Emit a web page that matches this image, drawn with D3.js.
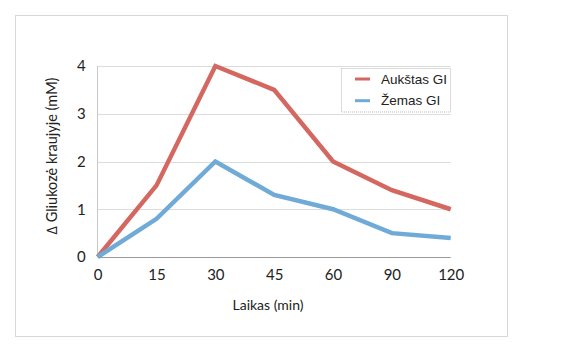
<!DOCTYPE html>
<html><head><meta charset="utf-8">
<script src="https://cdn.jsdelivr.net/npm/d3@7"></script>
<style>body{margin:0;background:#fff;}svg{display:block;}</style>
</head><body>
<svg id="c" width="565" height="356"></svg>
<script>
const categories = ["0","15","30","45","60","90","120"];
const highGI = [0, 1.5, 4, 3.5, 2, 1.4, 1.0];
const lowGI = [0, 0.8, 2, 1.3, 1.0, 0.5, 0.4];
const seriesNames = ["Aukštas GI", "Žemas GI"];
const yTicks = [0, 1, 2, 3, 4];
const colors = ["#d4675f", "#6fabd6"];

const svg = d3.select("#c");
const font = "Lato, 'Open Sans', sans-serif";

// outer dotted border
svg.append("rect").attr("x", 15.5).attr("y", 15.5).attr("width", 492).attr("height", 321)
  .attr("fill", "none").attr("stroke", "#b0b0b0").attr("stroke-dasharray", "1,1");

const x = d3.scalePoint().domain(categories).range([97.7, 450.7]);
const y = d3.scaleLinear().domain([0, 4]).range([257, 66]);

// gridlines
svg.append("g").selectAll("line").data(yTicks.filter(d => d > 0)).join("line")
  .attr("x1", 97.7).attr("x2", 450.7)
  .attr("y1", d => Math.round(y(d)) + 0.5).attr("y2", d => Math.round(y(d)) + 0.5)
  .attr("stroke", "#dcdcdc").attr("stroke-width", 1);

// y axis line
svg.append("line").attr("x1", 97.5).attr("x2", 97.5).attr("y1", 66).attr("y2", 257)
  .attr("stroke", "#c8c8c8");
// x axis line
svg.append("line").attr("x1", 97.7).attr("x2", 450.7).attr("y1", 257.5).attr("y2", 257.5)
  .attr("stroke", "#9a9a9a");

// y tick labels
const yAxis = d3.axisLeft(y).tickValues(yTicks).tickSize(0).tickPadding(12).tickFormat(d3.format("d"));
const gy = svg.append("g").attr("transform", "translate(97.7,0)").call(yAxis);
gy.select(".domain").remove();
gy.selectAll("text").attr("font-family", font).attr("font-size", 15).attr("fill", "#222");

// x tick labels
const xAxis = d3.axisBottom(x).tickSize(0).tickPadding(12);
const gx = svg.append("g").attr("transform", "translate(0,257)").call(xAxis);
gx.select(".domain").remove();
gx.selectAll("text").attr("font-family", font).attr("font-size", 15).attr("fill", "#222");

// axis titles
svg.append("text").attr("x", 268).attr("y", 310).attr("text-anchor", "middle")
  .attr("font-family", font).attr("font-size", 14).attr("fill", "#222").text("Laikas (min)");
svg.append("text").attr("transform", "translate(57,156) rotate(-90)").attr("text-anchor", "middle")
  .attr("font-family", font).attr("font-size", 14.5).attr("fill", "#222").text("∆ Gliukozė kraujyje (mM)");

// lines
const line = d3.line().x((d, i) => x(categories[i])).y(d => y(d));
[highGI, lowGI].forEach((s, k) => {
  svg.append("path").datum(s).attr("d", line).attr("fill", "none")
    .attr("stroke", colors[k]).attr("stroke-width", 4.5).attr("stroke-linejoin", "miter");
});

// legend
svg.append("rect").attr("x", 341.5).attr("y", 68.5).attr("width", 109).attr("height", 43.5)
  .attr("fill", "#fff").attr("stroke", "#b8b8b8").attr("stroke-dasharray", "1,1");
const lg = svg.append("g").selectAll("g").data(seriesNames).join("g")
  .attr("transform", (d, i) => `translate(0,${79 + i * 21.7})`);
lg.append("line").attr("x1", 355).attr("x2", 370).attr("y1", 0).attr("y2", 0)
  .attr("stroke", (d, i) => colors[i]).attr("stroke-width", 3);
lg.append("text").attr("x", 381).attr("y", 0).attr("dy", "0.35em")
  .attr("font-family", "'Liberation Sans', Arial, sans-serif").attr("font-size", 13.5).attr("fill", "#222")
  .text(d => d);
</script>
</body></html>
